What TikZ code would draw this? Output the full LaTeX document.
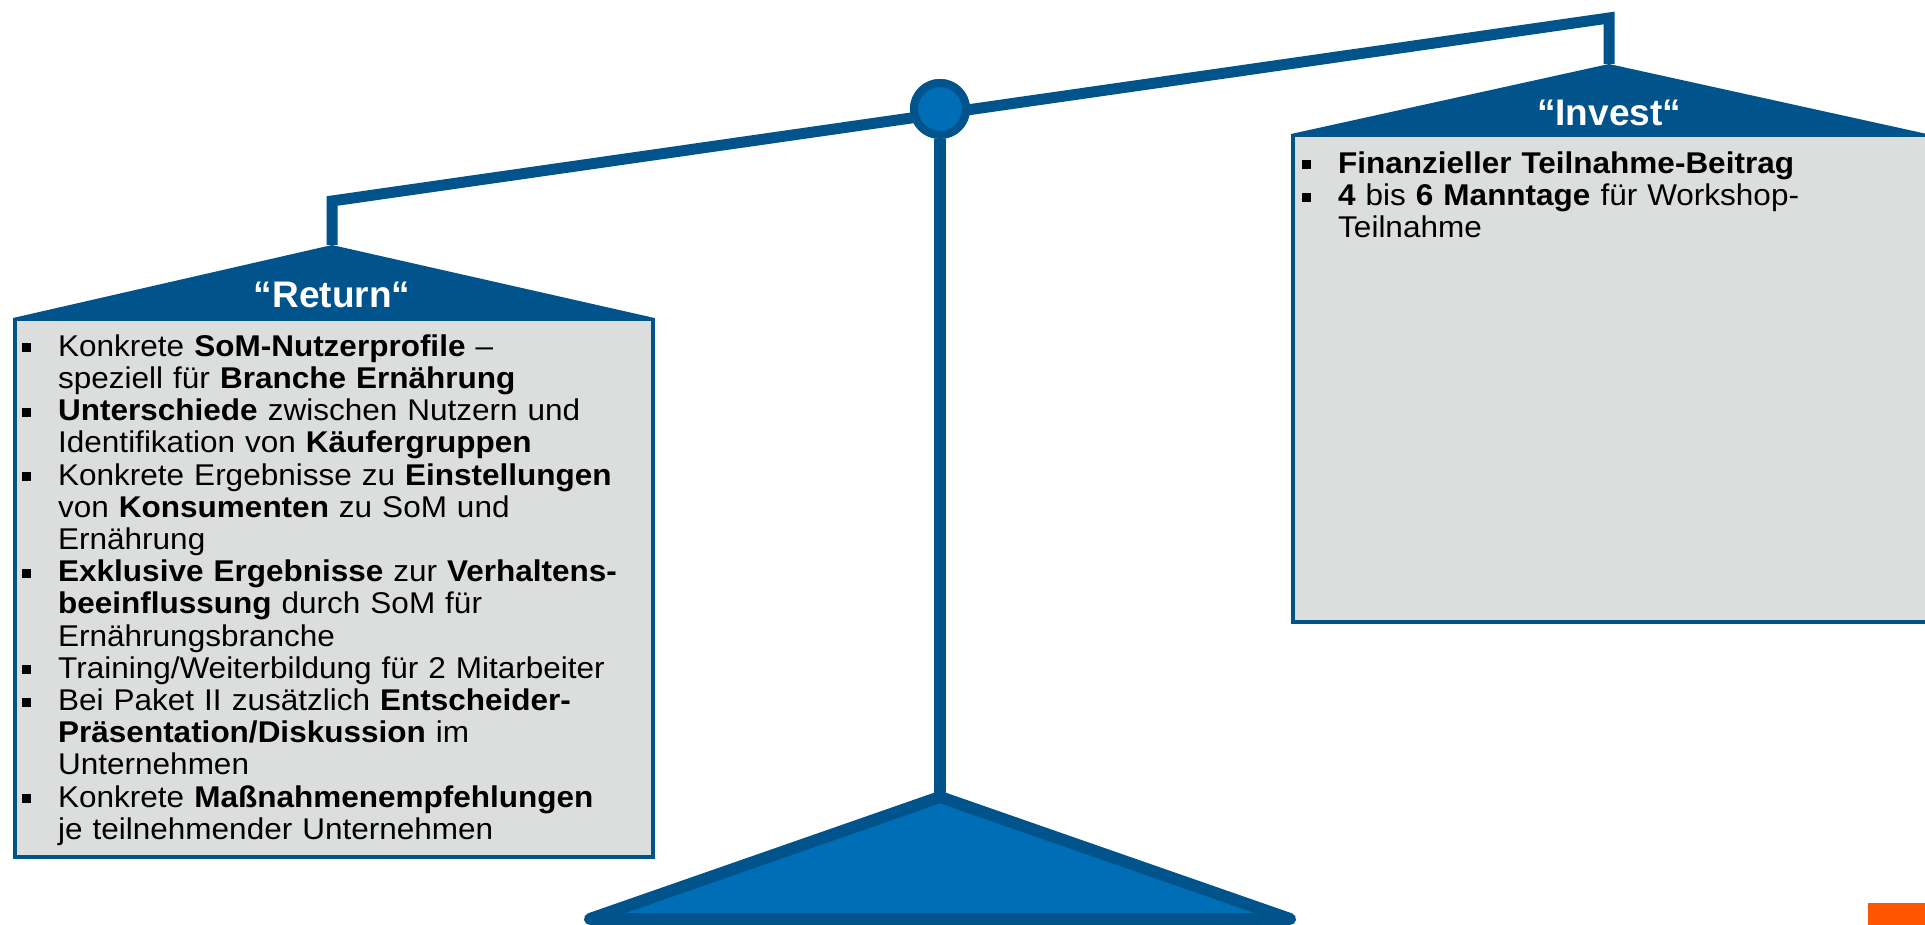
\documentclass[tikz,border=0pt]{standalone}
\usepackage{fontspec}
\newfontfamily\bodyfont{Liberation Sans}[FakeStretch=1.05]
\newfontfamily\headfont{Liberation Sans}
\definecolor{dblue}{RGB}{1,84,139}
\definecolor{lblue}{RGB}{0,110,183}
\definecolor{boxgray}{RGB}{220,221,221}
\definecolor{orng}{RGB}{255,85,0}
\newcommand{\bsq}{\makebox[36pt][l]{\raisebox{4pt}{\rule{9pt}{9pt}}}}
\newcommand{\itm}[1]{\par\hangindent=36pt\hangafter=1\noindent\bsq#1}
\tikzset{
  panel/.style={draw=dblue, line width=3.5pt, fill=boxgray, inner sep=0pt, anchor=north west},
  roof/.style={fill=dblue},
  beam/.style={draw=dblue, line width=11pt, line join=miter},
  stand/.style={draw=dblue, line width=12pt},
  pivot/.style={circle, draw=dblue, fill=lblue, line width=8pt, minimum size=52pt, inner sep=0pt},
  foot/.style={draw=dblue, fill=lblue, line width=12pt, line join=round},
  head/.style={text=white, font=\headfont\bfseries\fontsize{37}{40}\selectfont, anchor=base, inner sep=0pt},
  body/.style={anchor=north west, inner sep=0pt, text width=#1, font=\bodyfont\fontsize{30}{32.2}\selectfont},
}
\begin{document}
\begin{tikzpicture}[x=1pt,y=-1pt]
\useasboundingbox (0,0) rectangle (1925,925);

% key points
\coordinate (retapex) at (332,245);
\coordinate (retbeam) at (332,201);
\coordinate (invbeam) at (1609,18);
\coordinate (invapex) at (1609,64);
\coordinate (footapex) at (940,797);
\coordinate (footl) at (590,919);
\coordinate (footr) at (1290,919);

% pivot node
\node[pivot] (pivot) at (940,109) {};

% central stand
\draw[stand] (pivot.south) -- (footapex);

% beam with hangers
\draw[beam] (retapex) -- (retbeam) -- (invbeam) -- (invapex);

% pivot on top
\node[pivot] (pivottop) at (940,109) {};

% foot
\draw[foot] (footapex) -- (footr) -- (footl) -- cycle;

% Return panel
\node[panel, minimum width=638pt, minimum height=537pt] (retbox) at (13,318) {};
\fill[roof] (retbox.north west) -- (retapex) -- (retbox.north east) -- cycle;
\node[head] (rethead) at (332,308) {“Return“};

% Invest panel
\node[panel, minimum width=638pt, minimum height=486pt] (invbox) at (1291,134) {};
\fill[roof] (invbox.north west) -- (invapex) -- (1927,134) -- cycle;
\node[head] (invhead) at (1609,126) {“Invest“};

% Return text
\node[body=620pt] (rettext) at (22,324) {%
\itm{\rule{0pt}{25pt}Konkrete \textbf{SoM-Nutzerprofile} –\newline speziell für \textbf{Branche Ernährung}}%
\itm{\textbf{Unterschiede} zwischen Nutzern und\newline Identifikation von \textbf{Käufergruppen}}%
\itm{Konkrete Ergebnisse zu \textbf{Einstellungen}\newline von \textbf{Konsumenten} zu SoM und\newline Ernährung}%
\itm{\textbf{Exklusive Ergebnisse} zur \textbf{Verhaltens-}\newline \textbf{beeinflussung} durch SoM für\newline Ernährungsbranche}%
\itm{Training/Weiterbildung für 2 Mitarbeiter}%
\itm{Bei Paket II zusätzlich \textbf{Entscheider-}\newline \textbf{Präsentation/Diskussion} im\newline Unternehmen}%
\itm{Konkrete \textbf{Maßnahmenempfehlungen}\newline je teilnehmender Unternehmen}\par};

% Invest text
\node[body=600pt] (invtext) at (1302,141) {%
\itm{\rule{0pt}{25pt}\textbf{Finanzieller Teilnahme-Beitrag}}%
\itm{\textbf{4} bis \textbf{6 Manntage} für Workshop-\newline Teilnahme}\par};

% orange marker
\node[fill=orng, inner sep=0pt, minimum width=57pt, minimum height=22pt, anchor=south east] (mark) at (1925,925) {};
\end{tikzpicture}
\end{document}
